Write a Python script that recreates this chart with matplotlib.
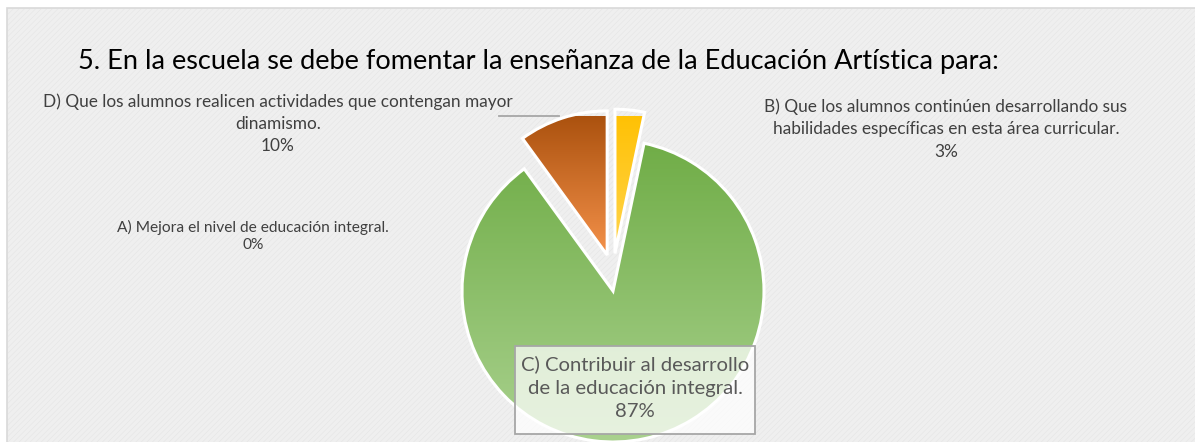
import numpy as np
import matplotlib
matplotlib.use("Agg")
import matplotlib.pyplot as plt
from matplotlib.colors import LinearSegmentedColormap
from matplotlib.patches import Rectangle
from matplotlib.lines import Line2D

# ---- data ----
labels = ["A) Mejora el nivel de educación integral.",
          "B) Que los alumnos continúen desarrollando sus\nhabilidades específicas en esta área curricular.",
          "C) Contribuir al desarrollo\nde la educación integral.",
          "D) Que los alumnos realicen actividades que contengan mayor\ndinamismo."]
shares = [0.0, 3.3, 86.7, 10.0]
pct_text = ["0%", "3%", "87%", "10%"]
title = "5. En la escuela se debe fomentar la enseñanza de la Educación Artística para:"

# top / bottom gradient colours of each slice
grad_top = ["#4472c4", "#ffc000", "#70ad47", "#a84f0c"]
grad_bot = ["#8faadc", "#ffd54f", "#a9d18e", "#f4914a"]
explode = [0.0, 0.25, 0.0, 0.25]

plt.rcParams["font.family"] = ["Lato", "DejaVu Sans"]
plt.rcParams["hatch.color"] = "#e5e5e5"
plt.rcParams["hatch.linewidth"] = 0.4

W, H = 1195, 442
fig = plt.figure(figsize=(W / 100, H / 100), dpi=100)
fig.patch.set_facecolor("white")


def fx(x):
    return x / W


def fy(y):
    return 1 - y / H


# chart area background
bg = Rectangle((fx(7), -0.1), 1.2, fy(8) + 0.1, transform=fig.transFigure,
               facecolor="#efefef", edgecolor="#d9d9d9", lw=1.2, zorder=-2)
fig.patches.append(bg)
hatch = Rectangle((fx(8), -0.1), 1.2, fy(9) + 0.1, transform=fig.transFigure,
                  facecolor="none", lw=0, hatch="//////", zorder=-1)
fig.patches.append(hatch)

# pie axes: centre (613, 291) px, radius 151 px
cx, cy, R, L = 613, 291, 151, 175
ax = fig.add_axes([fx(cx - L), fy(cy + L), 2 * L / W, 2 * L / H])
ax.set_zorder(1)
ax.axis("off")
ax.patch.set_alpha(0)

wedges, _ = ax.pie(shares, startangle=90, counterclock=False, explode=explode,
                   radius=1, wedgeprops=dict(edgecolor="white", linewidth=2.2))

for i, w in enumerate(wedges):
    if shares[i] == 0:
        w.set_visible(False)
        continue
    if explode[i] > 0:
        # Excel pulls the slices out mostly upward: damp the sideways part
        ox, oy = w.center
        w.set_center((ox * 0.5, oy))
        w.set_radius(0.955)
    w.set_facecolor("none")
    w.set_zorder(3)
    ext = w.get_path().get_extents()
    cmap = LinearSegmentedColormap.from_list("g%d" % i, [grad_bot[i], grad_top[i]])
    grad = np.linspace(0, 1, 256).reshape(-1, 1)
    im = ax.imshow(grad, cmap=cmap, origin="lower", aspect="auto",
                   extent=[ext.x0, ext.x1, ext.y0, ext.y1], zorder=2)
    im.set_clip_path(w)

ax.set_xlim(-L / R, L / R)
ax.set_ylim(-L / R, L / R)

# title
fig.text(fx(538), fy(61), title, ha="center", va="center", fontsize=19.5,
         color="black")

lab_col = "#404040"
# D label
fig.text(fx(278), fy(124), labels[3] + "\n" + pct_text[3], ha="center",
         va="center", fontsize=12.4, color=lab_col, linespacing=1.45)
fig.lines.append(Line2D([fx(499), fx(559)], [fy(116), fy(116)],
                        transform=fig.transFigure, color="#a6a6a6", lw=1.3))
# B label
fig.text(fx(946), fy(129), labels[1] + "\n" + pct_text[1], ha="center",
         va="center", fontsize=12.4, color=lab_col, linespacing=1.5)
# A label
fig.text(fx(253), fy(236), labels[0] + "\n" + pct_text[0], ha="center",
         va="center", fontsize=11.2, color=lab_col, linespacing=1.3)
# C label (boxed)
box = Rectangle((fx(515), fy(434)), fx(240), 88 / H, transform=fig.transFigure,
                facecolor="white", alpha=0.72, edgecolor="none", zorder=5)
fig.patches.append(box)
boxe = Rectangle((fx(515), fy(434)), fx(240), 88 / H, transform=fig.transFigure,
                 facecolor="none", edgecolor="#a6a6a6", lw=1.3, zorder=6)
fig.patches.append(boxe)
fig.text(fx(635), fy(388), labels[2] + "\n" + pct_text[2], ha="center",
         va="center", fontsize=14.6, color="#595959", linespacing=1.45, zorder=7)

fig.savefig("out.png", dpi=100)
